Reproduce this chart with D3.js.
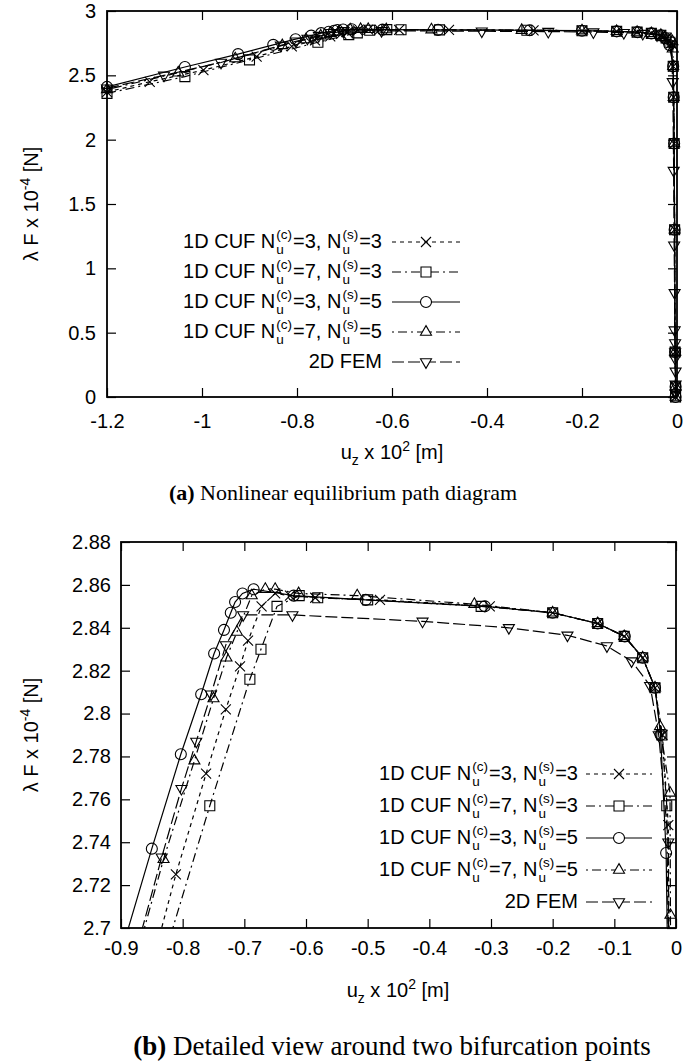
<!DOCTYPE html>
<html>
<head>
<meta charset="utf-8">
<script src="https://cdn.jsdelivr.net/npm/d3@7"></script>
<style>
  body { margin: 0; background: #fff; }
  text { white-space: pre; }
</style>
</head>
<body>
<svg width="685" height="1063"></svg>
<script>
// load-displacement data, u_z in 10^-2 m, lambda F in 10^4 N
const uzCuf33 = [-1.2, -1.11, -0.997, -0.885, -0.811, -0.762, -0.730, -0.707, -0.694, -0.672, -0.650, -0.626, -0.585, -0.48, -0.302, -0.20, -0.127, -0.084, -0.054, -0.034, -0.022, -0.0125, -0.008, -0.007, -0.006, -0.005, -0.004, -0.003, -0.003];
const lfCuf33 = [2.37, 2.45, 2.54, 2.645, 2.725, 2.772, 2.802, 2.822, 2.834, 2.850, 2.856, 2.855, 2.854, 2.853, 2.850, 2.847, 2.842, 2.836, 2.826, 2.812, 2.79, 2.748, 2.57, 2.33, 1.97, 1.30, 0.35, 0.08, 0];

const uzCuf73 = [-1.2, -1.036, -0.90, -0.756, -0.691, -0.673, -0.647, -0.611, -0.581, -0.50, -0.316, -0.20, -0.127, -0.084, -0.054, -0.034, -0.023, -0.015, -0.008, -0.007, -0.006, -0.005, -0.004, -0.003, -0.003];
const lfCuf73 = [2.36, 2.49, 2.62, 2.757, 2.816, 2.830, 2.850, 2.855, 2.854, 2.853, 2.850, 2.847, 2.842, 2.836, 2.826, 2.812, 2.79, 2.757, 2.57, 2.33, 1.97, 1.30, 0.35, 0.08, 0];

const uzCuf35 = [-1.2, -1.036, -0.924, -0.85, -0.803, -0.770, -0.749, -0.733, -0.722, -0.715, -0.703, -0.685, -0.62, -0.503, -0.31, -0.20, -0.127, -0.083, -0.054, -0.034, -0.025, -0.016, -0.008, -0.007, -0.006, -0.005, -0.004, -0.003, -0.003];
const lfCuf35 = [2.41, 2.565, 2.665, 2.737, 2.781, 2.809, 2.828, 2.839, 2.847, 2.852, 2.856, 2.858, 2.855, 2.853, 2.850, 2.847, 2.842, 2.836, 2.826, 2.812, 2.79, 2.735, 2.57, 2.33, 1.97, 1.30, 0.35, 0.08, 0];

const uzCuf75 = [-1.2, -1.05, -0.93, -0.831, -0.781, -0.750, -0.729, -0.712, -0.688, -0.666, -0.650, -0.612, -0.517, -0.327, -0.20, -0.127, -0.084, -0.054, -0.034, -0.026, -0.0097, -0.009, -0.008, -0.007, -0.006, -0.005, -0.004, -0.003, -0.003];
const lfCuf75 = [2.39, 2.52, 2.63, 2.732, 2.778, 2.807, 2.826, 2.838, 2.855, 2.858, 2.858, 2.856, 2.855, 2.851, 2.847, 2.842, 2.836, 2.826, 2.812, 2.794, 2.763, 2.706, 2.57, 2.33, 1.97, 1.30, 0.35, 0.08, 0];

const uzFem = [-1.2, -1.08, -0.96, -0.834, -0.802, -0.778, -0.754, -0.730, -0.702, -0.622, -0.411, -0.271, -0.176, -0.112, -0.072, -0.042, -0.028, -0.0125, -0.009, -0.007, -0.006, -0.005, -0.005, -0.004, -0.004, -0.004, -0.003, -0.003, -0.003];
const lfFem = [2.40, 2.50, 2.60, 2.733, 2.765, 2.787, 2.809, 2.832, 2.846, 2.846, 2.843, 2.840, 2.8365, 2.8315, 2.8245, 2.813, 2.79, 2.740, 2.45, 1.76, 1.18, 0.81, 0.52, 0.42, 0.35, 0.30, 0.2, 0.1, 0.03];

const seriesNames = [
  "1D CUF N_u^(c)=3, N_u^(s)=3",
  "1D CUF N_u^(c)=7, N_u^(s)=3",
  "1D CUF N_u^(c)=3, N_u^(s)=5",
  "1D CUF N_u^(c)=7, N_u^(s)=5",
  "2D FEM"
];

// tick labels
const topXTicks = [-1.2, -1, -0.8, -0.6, -0.4, -0.2, 0];
const topYTicks = [0, 0.5, 1, 1.5, 2, 2.5, 3];
const botXTicks = [-0.9, -0.8, -0.7, -0.6, -0.5, -0.4, -0.3, -0.2, -0.1, 0];
const botYTicks = [2.7, 2.72, 2.74, 2.76, 2.78, 2.8, 2.82, 2.84, 2.86, 2.88];

const series = [
  { uz: uzCuf33, lf: lfCuf33, sym: d3.symbolTimes, size: 67, dash: "4,4" },
  { uz: uzCuf73, lf: lfCuf73, sym: d3.symbolSquare2, size: 127, dash: "9,4,2,4" },
  { uz: uzCuf35, lf: lfCuf35, sym: d3.symbolCircle, size: 95, dash: null },
  { uz: uzCuf75, lf: lfCuf75, sym: d3.symbolTriangle2, size: 87, dash: "2,4,9,4" },
  { uz: uzFem, lf: lfFem, sym: d3.symbolTriangle2, size: 87, dash: "12,4", flip: true }
];

const FONT = "'Liberation Sans', Arial, Helvetica, sans-serif";
const svg = d3.select("svg");

function textWidth(str, fs) {
  const t = svg.append("text").attr("font-family", FONT).attr("font-size", fs).text(str);
  const w = t.node().getComputedTextLength();
  t.remove();
  return w;
}

// one text element per key entry, N_u^(c) stacked like gnuplot does it
function richLabel(g, str, fs) {
  const small = 13.5;
  const txt = g.append("text").attr("font-size", fs);
  let x = 0, base = 0;
  str.split(/(N_u\^\(\w\))/).forEach(p => {
    if (!p) return;
    const m = p.match(/N_u\^\((\w)\)/);
    if (m) {
      txt.append("tspan").attr("x", x).attr("dy", -base).text("N");
      x += textWidth("N", fs) + 1;
      txt.append("tspan").attr("x", x).attr("dy", 6).attr("font-size", small).text("u");
      txt.append("tspan").attr("x", x).attr("dy", -15).attr("font-size", small).text("(" + m[1] + ")");
      base = -9;
      x += Math.max(textWidth("u", small), textWidth("(" + m[1] + ")", small)) + 1;
    } else {
      txt.append("tspan").attr("x", x).attr("dy", -base).text(p);
      base = 0;
      x += textWidth(p, fs);
    }
  });
  return x;
}

function drawPanel(p) {
  const x = d3.scaleLinear().domain(p.xDomain).range([p.left, p.right]);
  const y = d3.scaleLinear().domain(p.yDomain).range([p.bottom, p.top]);
  const w = p.right - p.left, h = p.bottom - p.top;

  svg.append("clipPath").attr("id", "clip" + p.id)
    .append("rect").attr("x", p.left).attr("y", p.top).attr("width", w).attr("height", h);

  const g = svg.append("g").attr("font-family", FONT);

  // axes, ticks pointing inwards and mirrored
  const ax = g.append("g").attr("transform", `translate(0,${p.bottom})`)
    .call(d3.axisBottom(x).tickValues(p.xTicks).tickFormat(d => String(d))
      .tickSizeInner(-9).tickSizeOuter(0).tickPadding(p.xPad));
  g.append("g").attr("transform", `translate(0,${p.top})`)
    .call(d3.axisTop(x).tickValues(p.xTicks).tickFormat("").tickSizeInner(-9).tickSizeOuter(0));
  const ay = g.append("g").attr("transform", `translate(${p.left},0)`)
    .call(d3.axisLeft(y).tickValues(p.yTicks).tickFormat(d => String(d))
      .tickSizeInner(-9).tickSizeOuter(0).tickPadding(p.yPad));
  g.append("g").attr("transform", `translate(${p.right},0)`)
    .call(d3.axisRight(y).tickValues(p.yTicks).tickFormat("").tickSizeInner(-9).tickSizeOuter(0));
  g.selectAll(".domain").remove();
  g.selectAll(".tick line").attr("stroke", "#000").attr("stroke-width", 1.2);
  [ax, ay].forEach(a => a.selectAll("text").attr("font-size", 20).attr("font-family", FONT).attr("fill", "#000"));

  // curves
  const plot = g.append("g").attr("clip-path", `url(#clip${p.id})`);
  const line = d3.line().x(d => x(d[0])).y(d => y(d[1]));
  series.forEach(s => {
    const pts = s.uz.map((u, i) => [u, s.lf[i]]);
    plot.append("path").attr("d", line(pts)).attr("fill", "none")
      .attr("stroke", "#000").attr("stroke-width", 1.2)
      .attr("stroke-dasharray", s.dash);
  });
  const marks = g.append("g");
  series.forEach(s => {
    const pts = s.uz.map((u, i) => [u, s.lf[i]])
      .filter(d => d[0] >= p.xDomain[0] && d[0] <= p.xDomain[1] && d[1] >= p.yDomain[0] && d[1] <= p.yDomain[1]);
    marks.selectAll(null).data(pts).enter().append("path")
      .attr("d", d3.symbol(s.sym, s.size))
      .attr("transform", d => `translate(${x(d[0])},${y(d[1])})` + (s.flip ? " rotate(180)" : ""))
      .attr("fill", "none").attr("stroke", "#000").attr("stroke-width", 1.1);
  });

  // frame
  g.append("rect").attr("x", p.left).attr("y", p.top).attr("width", w).attr("height", h)
    .attr("fill", "none").attr("stroke", "#000").attr("stroke-width", 1.8);

  // key
  series.forEach((s, i) => {
    const ry = p.keyRows[i];
    const lg = g.append("g");
    const tw = richLabel(lg, seriesNames[i], 20);
    lg.attr("transform", `translate(${p.keyRight - tw},${ry + 6})`);
    g.append("line").attr("x1", p.keyX1).attr("x2", p.keyX2).attr("y1", ry).attr("y2", ry)
      .attr("stroke", "#000").attr("stroke-width", 1.2).attr("stroke-dasharray", s.dash);
    g.append("path").attr("d", d3.symbol(s.sym, s.size))
      .attr("transform", `translate(${(p.keyX1 + p.keyX2) / 2},${ry})` + (s.flip ? " rotate(180)" : ""))
      .attr("fill", "#fff").attr("stroke", "#000").attr("stroke-width", 1.1);
  });

  // axis titles
  const xl = g.append("text").attr("x", p.xLabel[0]).attr("y", p.xLabel[1])
    .attr("text-anchor", "middle").attr("font-size", 20);
  xl.append("tspan").text("u");
  xl.append("tspan").attr("dy", 6).attr("font-size", 14).text("z");
  xl.append("tspan").attr("dy", -6).text(" x 10");
  xl.append("tspan").attr("dy", -8).attr("font-size", 14).text("2");
  xl.append("tspan").attr("dy", 8).text(" [m]");

  const yl = g.append("text")
    .attr("transform", `translate(${p.yLabel[0]},${p.yLabel[1]}) rotate(-90)`)
    .attr("text-anchor", "middle").attr("font-size", 20);
  yl.append("tspan").text("\u03bb F x 10");
  yl.append("tspan").attr("dy", -8).attr("font-size", 14).text("-4");
  yl.append("tspan").attr("dy", 8).text(" [N]");

  // caption
  const cap = svg.append("text").attr("x", p.caption[0]).attr("y", p.caption[1])
    .attr("text-anchor", "middle").attr("font-family", "'Liberation Serif', 'Times New Roman', serif")
    .attr("font-size", p.captionSize);
  cap.append("tspan").attr("font-weight", "bold").text(p.captionTag);
  cap.append("tspan").text(" " + p.captionText);
}

drawPanel({
  id: "a", left: 107, right: 677, top: 11, bottom: 397,
  xDomain: [-1.2, 0], yDomain: [0, 3], xTicks: topXTicks, yTicks: topYTicks,
  xPad: 17, yPad: 11,
  keyRight: 382, keyX1: 392, keyX2: 460, keyRows: [242, 272, 302, 332, 362],
  xLabel: [392, 459], yLabel: [38, 204],
  caption: [343, 500], captionSize: 22, captionTag: "(a)", captionText: "Nonlinear equilibrium path diagram"
});

drawPanel({
  id: "b", left: 121, right: 676, top: 542, bottom: 928,
  xDomain: [-0.9, 0], yDomain: [2.7, 2.88], xTicks: botXTicks, yTicks: botYTicks,
  xPad: 13, yPad: 10,
  keyRight: 578, keyX1: 586, keyX2: 652, keyRows: [774, 806, 838, 870, 902],
  xLabel: [398, 997], yLabel: [38, 735],
  caption: [392, 1055], captionSize: 27, captionTag: "(b)", captionText: "Detailed view around two bifurcation points"
});
</script>
</body>
</html>
